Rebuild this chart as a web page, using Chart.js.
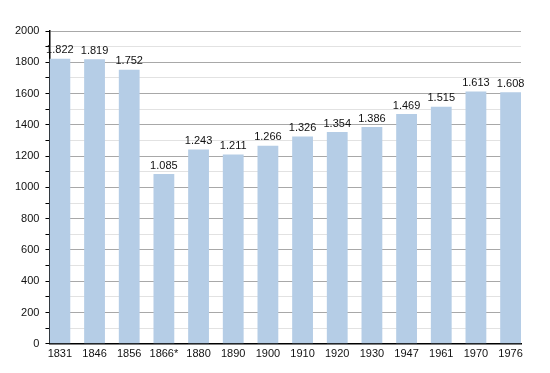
<!DOCTYPE html>
<html>
<head>
<meta charset="utf-8">
<script src="https://cdn.jsdelivr.net/npm/chart.js@4"></script>
<style>
  html, body { margin: 0; padding: 0; background: #fff; }
  #wrap { width: 550px; height: 373px; }
</style>
</head>
<body>
<div id="wrap"><canvas id="grafico"></canvas></div>
<script>
// dados
let anos = ["1831", "1846", "1856", "1866*", "1880", "1890", "1900", "1910", "1920", "1930", "1947", "1961", "1970", "1976"]
let habitantes = [1822, 1819, 1752, 1085, 1243, 1211, 1266, 1326, 1354, 1386, 1469, 1515, 1613, 1608]
let yMin = 0
let yMax = 2000
let yPasso = 100

// rotulos acima das barras, com ponto de milhar
const rotulos = {
  id: "rotulos",
  afterDatasetsDraw(chart) {
    const ctx = chart.ctx
    const meta = chart.getDatasetMeta(0)
    ctx.save()
    ctx.font = "11px 'Liberation Sans', Arial, sans-serif"
    ctx.fillStyle = "#111"
    ctx.textAlign = "center"
    ctx.textBaseline = "bottom"
    meta.data.forEach((bar, i) => {
      let v = habitantes[i]
      let txt = Math.floor(v / 1000) + "." + String(v % 1000).padStart(3, "0")
      ctx.fillText(txt, bar.x, bar.y - 3)
    })
    ctx.restore()
  },
}

new Chart(document.getElementById("grafico"), {
  type: "bar",
  data: {
    datasets: [
      {
        data: habitantes.map((v, i) => ({ x: i, y: v })),
        backgroundColor: "#b5cde6",
        borderWidth: 0,
        barPercentage: 0.6,
        categoryPercentage: 1,
      },
    ],
  },
  options: {
    responsive: true,
    maintainAspectRatio: false,
    animation: false,
    layout: { padding: { top: 31, right: 29, left: 9, bottom: 8 } },
    plugins: {
      legend: { display: false },
      tooltip: { enabled: false },
    },
    scales: {
      x: {
        type: "linear",
        min: -0.3,
        max: anos.length - 0.7,
        offset: false,
        grid: { display: false, drawTicks: false },
        border: { color: "#000", width: 1.5 },
        afterBuildTicks: (axis) => {
          axis.ticks = anos.map((a, i) => ({ value: i }))
        },
        ticks: {
          color: "#111",
          padding: 4,
          maxRotation: 0,
          minRotation: 0,
          autoSkip: false,
          font: { family: "'Liberation Sans', Arial, sans-serif", size: 11 },
          callback: (v) => anos[v],
        },
      },
      y: {
        min: yMin,
        max: yMax,
        border: { color: "#000", width: 1.5 },
        grid: {
          color: (c) => (c.tick && c.tick.value % 200 === 0 ? "#a8a8a8" : "#e2e2e2"),
          tickColor: "#000",
          tickLength: 4,
          lineWidth: 1,
        },
        ticks: {
          stepSize: yPasso,
          autoSkip: false,
          color: "#111",
          padding: 6,
          font: { family: "'Liberation Sans', Arial, sans-serif", size: 11 },
          callback: (v) => (v % 200 === 0 ? v : ""),
        },
      },
    },
  },
  plugins: [rotulos],
});
</script>
</body>
</html>
